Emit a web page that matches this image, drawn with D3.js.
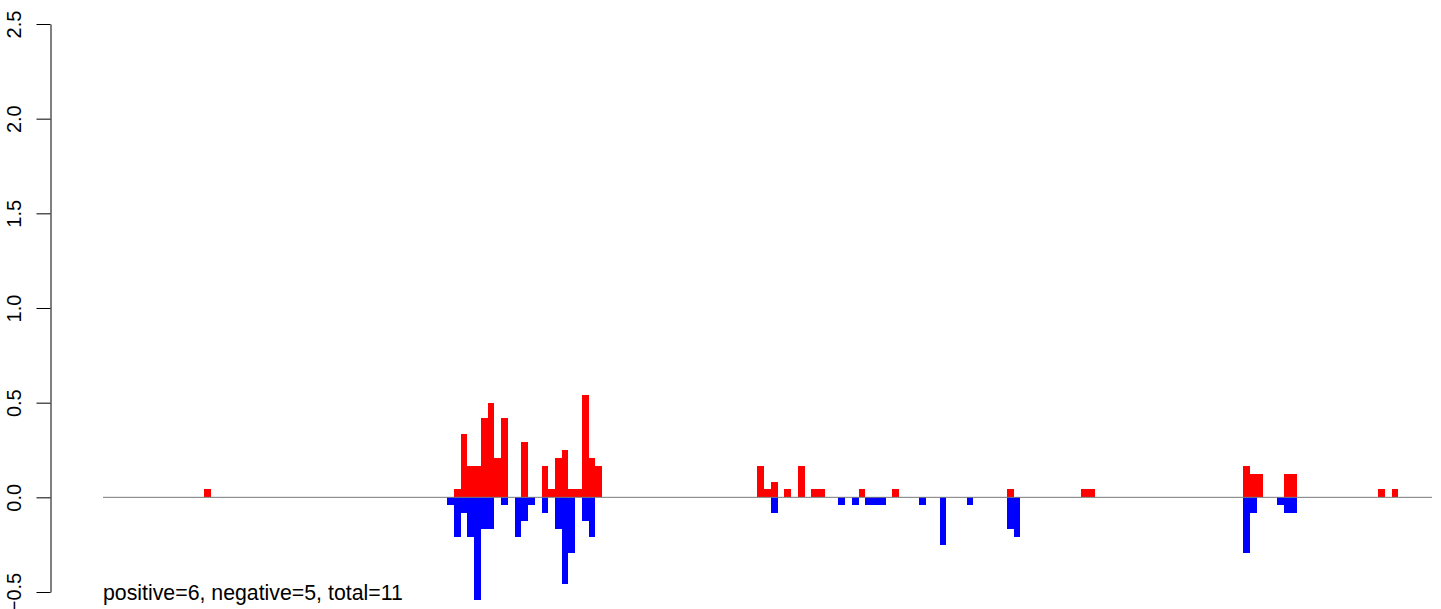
<!DOCTYPE html>
<html>
<head>
<meta charset="utf-8">
<script src="https://cdn.jsdelivr.net/npm/d3@7"></script>
<style>
  html, body { margin: 0; padding: 0; background: #fff; }
  svg { display: block; }
  text { font-family: "Liberation Sans", Arial, Helvetica, sans-serif; }
</style>
</head>
<body>
<svg id="chart" width="1441" height="609"></svg>
<script>
// ---- data (bin index along the x range) ----
const posBins   = [0, 37, 38, 39, 40, 41, 42, 43, 44, 47, 50, 51, 52, 53, 54, 55, 56, 57, 58,
                   82, 83, 84, 86, 88, 90, 91, 97, 102, 119, 130, 131, 154, 155, 156, 160, 161, 174, 176];
const posValues = [0.042, 0.042, 0.333, 0.167, 0.167, 0.417, 0.5, 0.208, 0.417, 0.292, 0.167, 0.042, 0.208, 0.25, 0.042, 0.042, 0.542, 0.208, 0.167,
                   0.167, 0.042, 0.083, 0.042, 0.167, 0.042, 0.042, 0.042, 0.042, 0.042, 0.042, 0.042, 0.167, 0.125, 0.125, 0.125, 0.125, 0.042, 0.042];

const negBins   = [36, 37, 38, 39, 40, 41, 42, 44, 46, 47, 48, 50, 52, 53, 54, 56, 57,
                   84, 94, 96, 98, 99, 100, 106, 109, 113, 119, 120, 154, 155, 159, 160, 161];
const negValues = [-0.042, -0.208, -0.083, -0.208, -0.542, -0.167, -0.167, -0.042, -0.208, -0.125, -0.042, -0.083, -0.167, -0.458, -0.292, -0.125, -0.208,
                   -0.083, -0.042, -0.042, -0.042, -0.042, -0.042, -0.042, -0.25, -0.042, -0.167, -0.208, -0.292, -0.083, -0.042, -0.083, -0.083];

const xDomain   = [-15, 182];
const yDomain   = [-0.5, 2.5];
const yTicks    = [-0.5, 0.0, 0.5, 1.0, 1.5, 2.0, 2.5];
const summary   = "positive=6, negative=5, total=11";

// ---- scales ----
const svg = d3.select("#chart");
const x = d3.scaleLinear().domain(xDomain).range([103, 1432]);
const y = d3.scaleLinear().domain(yDomain).range([592, 24]);

const pos = posBins.map((b, i) => ({ b, v: posValues[i] }));
const neg = negBins.map((b, i) => ({ b, v: negValues[i] }));

// ---- bars ----
svg.append("g").selectAll("rect").data(pos).join("rect")
  .attr("x", d => x(d.b))
  .attr("width", d => x(d.b + 1) - x(d.b))
  .attr("y", d => y(d.v))
  .attr("height", d => y(0) - y(d.v))
  .attr("fill", "#ff0000")
  .attr("shape-rendering", "crispEdges");

svg.append("g").selectAll("rect").data(neg).join("rect")
  .attr("x", d => x(d.b))
  .attr("width", d => x(d.b + 1) - x(d.b))
  .attr("y", y(0))
  .attr("height", d => y(d.v) - y(0))
  .attr("fill", "#0000ff")
  .attr("shape-rendering", "crispEdges");

// ---- zero line ----
svg.append("line")
  .attr("x1", x(xDomain[0])).attr("x2", x(xDomain[1]))
  .attr("y1", y(0)).attr("y2", y(0))
  .attr("stroke", "#7a7a7a").attr("stroke-width", 1);

// ---- y axis ----
const axis = d3.axisLeft(y)
  .tickValues(yTicks)
  .tickFormat(d3.format(".1f"))
  .tickSizeInner(14)
  .tickSizeOuter(0);

const gAxis = svg.append("g")
  .attr("transform", "translate(50.5,0)")
  .call(axis);
gAxis.select(".domain").attr("stroke", "#000");
gAxis.selectAll(".tick line").attr("stroke", "#000");
gAxis.selectAll(".tick text")
  .attr("transform", "rotate(-90)")
  .attr("x", 0)
  .attr("y", -29.5)
  .attr("dy", 0)
  .attr("text-anchor", "middle")
  .attr("fill", "#000")
  .style("font-size", "20px")
  .style("font-family", "'Liberation Sans', Arial, sans-serif");

// ---- summary text ----
svg.append("text")
  .attr("x", 103)
  .attr("y", 600)
  .attr("fill", "#000")
  .style("font-size", "21.3px")
  .text(summary);
</script>
</body>
</html>
